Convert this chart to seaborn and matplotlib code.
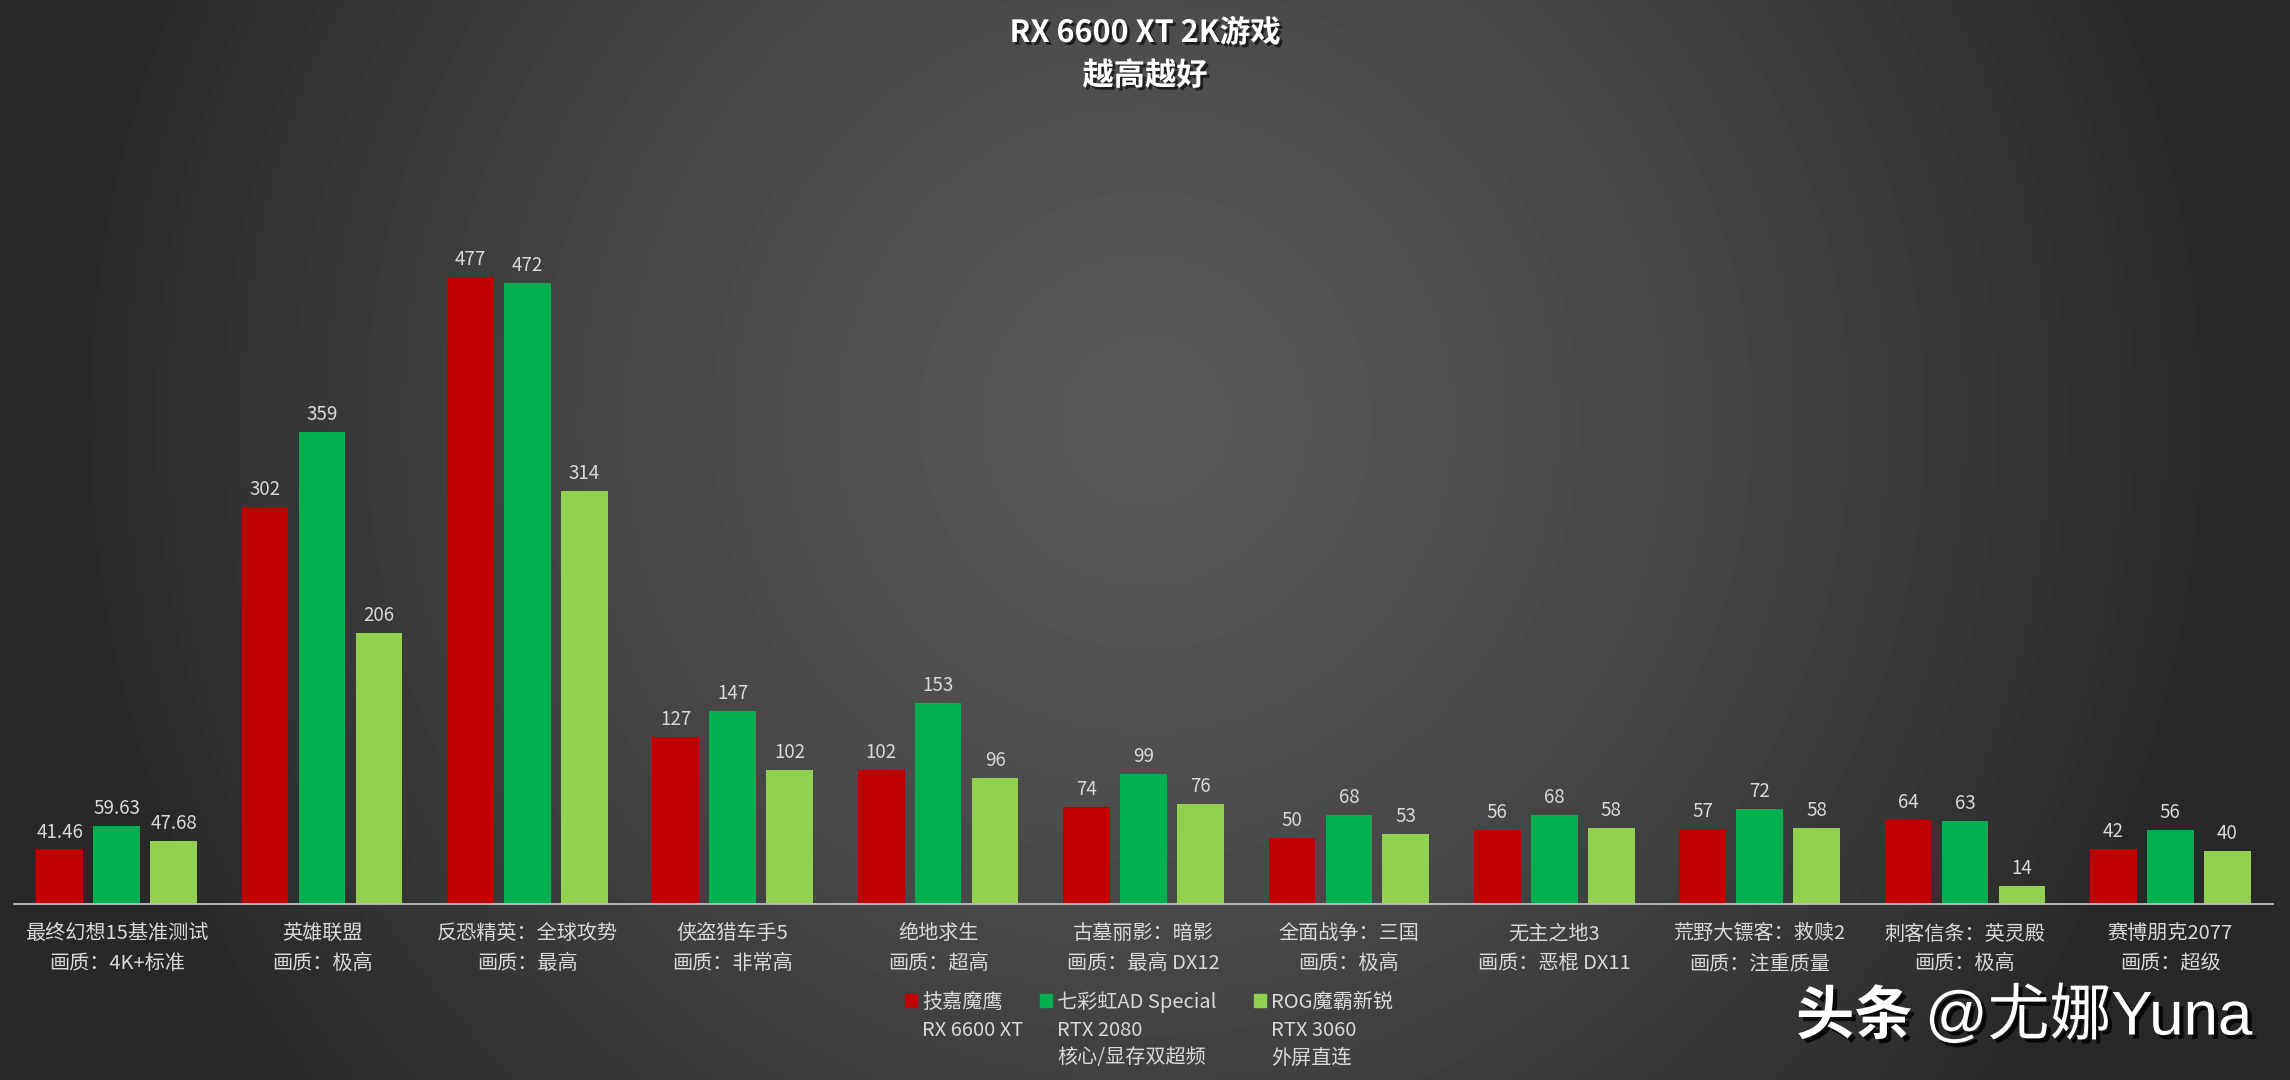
import numpy as np
import pandas as pd
import matplotlib
matplotlib.use('Agg')
import matplotlib.pyplot as plt
import matplotlib.patheffects as pe
import seaborn as sns

# data
games = ['最终幻想15基准测试', '英雄联盟', '反恐精英：全球攻势', '侠盗猎车手5', '绝地求生',
         '古墓丽影：暗影', '全面战争：三国', '无主之地3', '荒野大镖客：救赎2', '刺客信条：英灵殿',
         '赛博朋克2077']
settings = ['4K+标准', '极高', '最高', '非常高', '超高', '最高 DX12', '极高', '恶棍 DX11',
            '注重质量', '极高', '超级']
cards = ['技嘉魔鹰', '七彩虹AD Special', 'ROG魔霸新锐']
card_notes = [['RX 6600 XT'], ['RTX 2080', '核心/显存双超频'], ['RTX 3060', '外屏直连']]
fps_gigabyte = [41.46, 302, 477, 127, 102, 74, 50, 56, 57, 64, 42]
fps_colorful = [59.63, 359, 472, 147, 153, 99, 68, 68, 72, 63, 56]
fps_rog = [47.68, 206, 314, 102, 96, 76, 53, 58, 58, 14, 40]
colors = ['#C00000', '#00B050', '#92D050']

labels = [f'{g}\n画质：{s}' for g, s in zip(games, settings)]
df = pd.DataFrame({
    'game': labels * 3,
    'card': np.repeat(cards, len(games)),
    'fps': fps_gigabyte + fps_colorful + fps_rog,
})

sns.set_style('dark')
plt.rcParams['font.family'] = ['Noto Sans CJK SC', 'DejaVu Sans']

W, H = 2290, 1080
fig = plt.figure(figsize=(W / 100, H / 100), dpi=100)

# grey background, lighter in the middle
yy, xx = np.mgrid[0:H, 0:W]
d = np.sqrt(((xx - 1145) / 1085.0) ** 2 + ((yy - 420) / 1100.0) ** 2)
d = np.clip(d, 0, 1) ** 1.4
grad = 0x58 / 255 - (0x58 - 0x28) / 255 * d
bg = fig.add_axes([0, 0, 1, 1], zorder=0)
bg.imshow(grad, cmap='gray', vmin=0, vmax=1, extent=[0, 1, 0, 1], aspect='auto')
bg.axis('off')

ax = fig.add_axes([14 / W, 1 - 904 / H, 2259 / W, 684 / H], zorder=1)
ax.patch.set_alpha(0)
sns.barplot(data=df, x='game', y='fps', hue='card', palette=colors, width=0.832, gap=0.18,
            saturation=1, linewidth=0, edgecolor='none', ax=ax, legend=False)
ax.set_ylim(0, 520)
ax.set_xlim(-0.5, len(games) - 0.5)
ax.set_xlabel('')
ax.set_ylabel('')
ax.set_yticks([])
ax.grid(False)
for s in ['left', 'top', 'right']:
    ax.spines[s].set_visible(False)
ax.spines['bottom'].set_color('#bfbfbf')
ax.spines['bottom'].set_linewidth(1.3)
ax.tick_params(axis='x', length=0, pad=14, labelsize=14.5, colors='#d9d9d9')
for t in ax.get_xticklabels():
    t.set_linespacing(1.55)

for cont in ax.containers:
    ax.bar_label(cont, labels=[f'{v:g}' for v in cont.datavalues], padding=5,
                 color='#d9d9d9', fontsize=13.5)

# legend
handles = [plt.Rectangle((0, 0), 1, 1, color=c) for c in colors]
leg = fig.legend(handles, cards, loc='center left', bbox_to_anchor=(905 / W, 1 - 1002 / H),
                 ncol=3, frameon=False, fontsize=14.5, labelcolor='#d9d9d9',
                 handlelength=0.6, handleheight=0.6, handletextpad=0.25,
                 columnspacing=1.85, borderpad=0, borderaxespad=0)
fig.canvas.draw()
for txt, notes in zip(leg.get_texts(), card_notes):
    bb = txt.get_window_extent()
    for k, note in enumerate(notes):
        fig.text(bb.x0 / W, 1 - (1003 + 27.5 * (k + 1)) / H, note, ha='left', va='center',
                 fontsize=14.5, color='#d9d9d9')

shadow = [pe.withSimplePatchShadow(offset=(2, -2), shadow_rgbFace='black', alpha=0.6)]
fig.text(0.5, 1 - 33 / H, 'RX 6600 XT 2K游戏', ha='center', va='center', fontsize=22,
         fontweight='bold', color='white', path_effects=shadow)
fig.text(0.5, 1 - 76 / H, '越高越好', ha='center', va='center', fontsize=22.5,
         fontweight='bold', color='white', path_effects=shadow)

# watermark
shadow2 = [pe.withSimplePatchShadow(offset=(3, -3), shadow_rgbFace='black', alpha=0.8)]
fig.text(1796 / W, 1 - 1017 / H, '头条', ha='left', va='center', fontsize=42,
         fontweight='bold', color='white', path_effects=shadow2)
fig.text(1925 / W, 1 - 1017 / H, '@尤娜Yuna', ha='left', va='center', fontsize=44.5,
         family=['Liberation Sans', 'Noto Sans CJK SC'], color='white', path_effects=shadow2)

fig.savefig('out.png', dpi=100)
